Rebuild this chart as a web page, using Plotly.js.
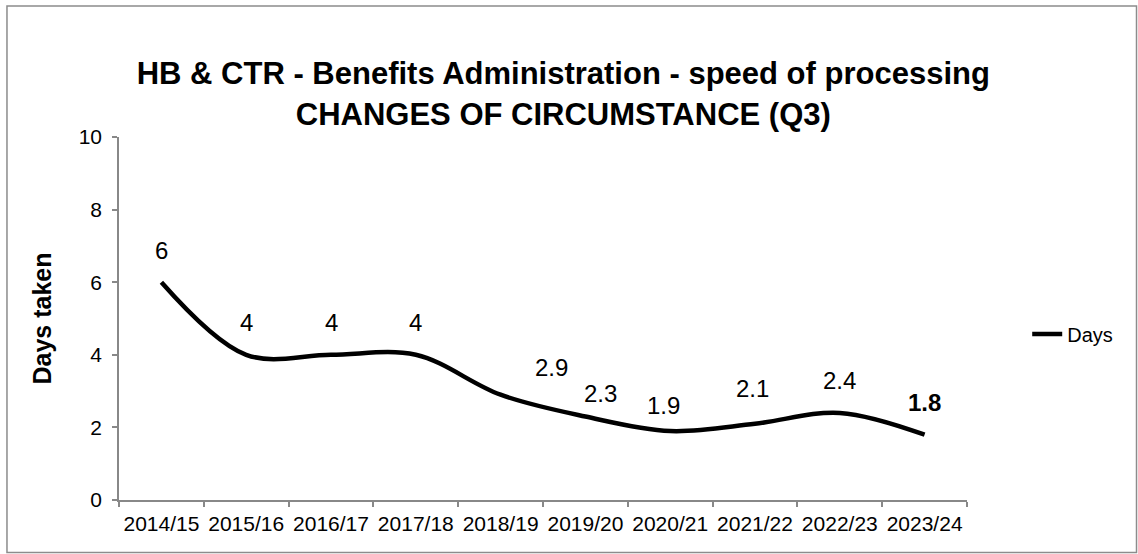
<!DOCTYPE html>
<html>
<head>
<meta charset="utf-8">
<script src="https://cdn.plot.ly/plotly-3.0.1.min.js"></script>
<style>html,body{margin:0;padding:0;background:#fff;}#chart{width:1138px;height:554px;}</style>
</head>
<body>
<div id="chart"></div>
<script>
const years = ["2014/15","2015/16","2016/17","2017/18","2018/19","2019/20","2020/21","2021/22","2022/23","2023/24"];
const days = [6, 4, 4, 4, 2.9, 2.3, 1.9, 2.1, 2.4, 1.8];
const labelText = ["6","4","4","4","2.9","2.3","1.9","2.1","2.4","1.8"];
const seriesName = "Days";

const FONT = "Arial, 'Liberation Sans', sans-serif";
const AXIS = "#888888";
// label placement (styling only)
const shiftX = [0,0,0,0,51,15,-7,-3,0,0];
const shiftY = [32,32,32,32,27,23,26,35,32,32];

const annotations = years.map((y, i) => ({
  x: i, y: days[i], xref: "x", yref: "y",
  text: i === years.length - 1 ? "<b>" + labelText[i] + "</b>" : labelText[i],
  showarrow: false, xanchor: "center", yanchor: "middle",
  xshift: shiftX[i], yshift: shiftY[i],
  font: {family: FONT, size: 24, color: "#000"}
}));

const trace = {
  type: "scatter", mode: "lines", name: seriesName,
  x: years, y: days,
  line: {color: "#000000", width: 4.5, shape: "spline", smoothing: 1},
  hoverinfo: "x+y"
};

const layout = {
  width: 1138, height: 554,
  margin: {l: 119, r: 171, t: 137, b: 54, pad: 0},
  paper_bgcolor: "#ffffff", plot_bgcolor: "#ffffff",
  font: {family: FONT, color: "#000"},
  title: {
    text: "<b>HB & CTR - Benefits Administration - speed of processing<br>CHANGES OF CIRCUMSTANCE (Q3)</b>",
    font: {family: FONT, size: 31, color: "#000"},
    x: 0.495, xref: "container", xanchor: "center",
    y: 0.848, yref: "container", yanchor: "middle"
  },
  xaxis: {
    type: "category", categoryorder: "array", categoryarray: years,
    range: [-0.5, years.length - 0.5], autorange: false,
    showline: true, linecolor: AXIS, linewidth: 1.5,
    ticks: "outside", tickson: "boundaries", ticklen: 5, tickcolor: AXIS, tickwidth: 1.5,
    ticklabelstandoff: 4, tickangle: 0,
    showgrid: false, zeroline: false,
    tickfont: {family: FONT, size: 21, color: "#000"}
  },
  yaxis: {
    range: [0, 10], dtick: 2, tick0: 0, autorange: false,
    showline: true, linecolor: AXIS, linewidth: 1.5,
    ticks: "outside", ticklen: 5, tickcolor: AXIS, tickwidth: 1.5,
    showgrid: false, zeroline: false,
    ticklabelstandoff: 6,
    tickfont: {family: FONT, size: 21, color: "#000"},
    title: {text: "<b>Days taken</b>", font: {family: FONT, size: 25, color: "#000"}, standoff: 20}
  },
  showlegend: true,
  legend: {
    x: 1.071, xref: "paper", xanchor: "left",
    y: 0.457, yref: "paper", yanchor: "middle",
    font: {family: FONT, size: 20, color: "#000"},
    bgcolor: "rgba(0,0,0,0)"
  },
  annotations: annotations,
  shapes: [{
    type: "rect", xref: "paper", yref: "paper",
    x0: -0.1321, x1: 1.1999, y0: -0.1446, y1: 1.3609,
    line: {color: "#8c8c8c", width: 1.5}, fillcolor: "rgba(0,0,0,0)", layer: "below"
  }]
};

Plotly.newPlot("chart", [trace], layout, {displayModeBar: false});
</script>
</body>
</html>
